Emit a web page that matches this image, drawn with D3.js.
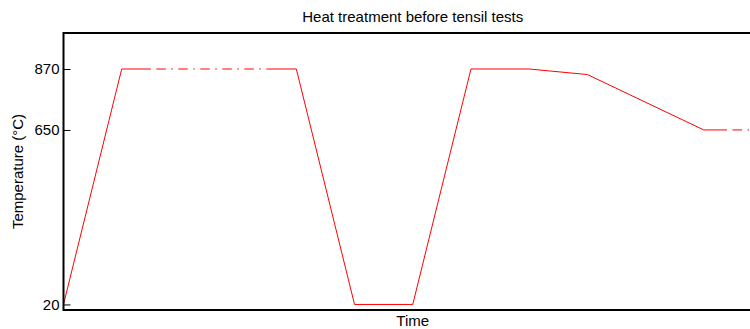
<!DOCTYPE html>
<html>
<head>
<meta charset="utf-8">
<script src="https://cdn.jsdelivr.net/npm/d3@7"></script>
<style>
  html, body { margin: 0; padding: 0; background: #fff; }
  svg { display: block; font-family: "Liberation Sans", Arial, sans-serif; }
</style>
</head>
<body>
<svg id="chart" width="750" height="329"></svg>
<script>
// Heat treatment profile: time (arbitrary units) vs temperature (°C)
const times = [0, 1, 1.5, 3.5, 4, 5, 6, 7, 8, 9, 11, 11.4, 12];
const temps = [20, 870, 870, 870, 870, 20, 20, 870, 870, 850, 650, 650, 650];
// line style of each segment between consecutive points
const segStyles = ["solid", "solid", "dashdot", "solid", "solid", "solid",
                   "solid", "solid", "solid", "solid", "solid", "dashdot"];
const yTicks = [20, 650, 870];
const titleText = "Heat treatment before tensil tests";
const xLabel = "Time";
const yLabel = "Temperature (°C)";

const svg = d3.select("#chart");
const m = { left: 63.5, top: 33, right: 762, bottom: 310 };

const x = d3.scaleLinear().domain([0, 12]).range([m.left, m.right]);
const y = d3.scaleLinear().domain([0, 1000]).range([m.bottom, m.top]);

// title
svg.append("text")
  .attr("x", (m.left + m.right) / 2).attr("y", 22)
  .attr("text-anchor", "middle").attr("font-size", 15).attr("fill", "#000")
  .text(titleText);

// profile, split into runs of equal line style
const pts = times.map((t, i) => ({ t, v: temps[i] }));
const runs = [];
segStyles.forEach((s, i) => {
  const last = runs[runs.length - 1];
  if (last && last.style === s) last.points.push(pts[i + 1]);
  else runs.push({ style: s, points: [pts[i], pts[i + 1]] });
});
const line = d3.line().x(d => x(d.t)).y(d => y(d.v));
svg.append("g").selectAll("path").data(runs).join("path")
  .attr("d", d => line(d.points))
  .attr("fill", "none")
  .attr("stroke", "#ff0000")
  .attr("stroke-width", 1)
  .attr("stroke-dasharray", d => d.style === "dashdot" ? "9.5,5.5,1.5,5.5" : null)
  .attr("stroke-dashoffset", d => d.style === "dashdot" ? 16.5 : null);

// frame
svg.append("rect")
  .attr("x", m.left).attr("y", m.top)
  .attr("width", m.right - m.left).attr("height", m.bottom - m.top)
  .attr("fill", "none").attr("stroke", "#000").attr("stroke-width", 2);

// y axis with inward ticks
const yAxis = d3.axisLeft(y).tickValues(yTicks).tickSizeInner(-7).tickSizeOuter(0).tickPadding(4);
const gy = svg.append("g").attr("transform", `translate(${m.left},0)`).call(yAxis);
gy.select(".domain").remove();
gy.selectAll(".tick line").attr("stroke", "#000").attr("stroke-width", 1);
gy.selectAll(".tick text").attr("font-size", 15).attr("fill", "#000")
  .attr("font-family", "'Liberation Sans', Arial, sans-serif");

// axis labels
svg.append("text")
  .attr("x", (m.left + m.right) / 2).attr("y", 326)
  .attr("text-anchor", "middle").attr("font-size", 15).attr("fill", "#000")
  .text(xLabel);
svg.append("text")
  .attr("transform", `translate(23,${(m.top + m.bottom) / 2}) rotate(-90)`)
  .attr("text-anchor", "middle").attr("font-size", 15).attr("fill", "#000")
  .text(yLabel);
</script>
</body>
</html>
